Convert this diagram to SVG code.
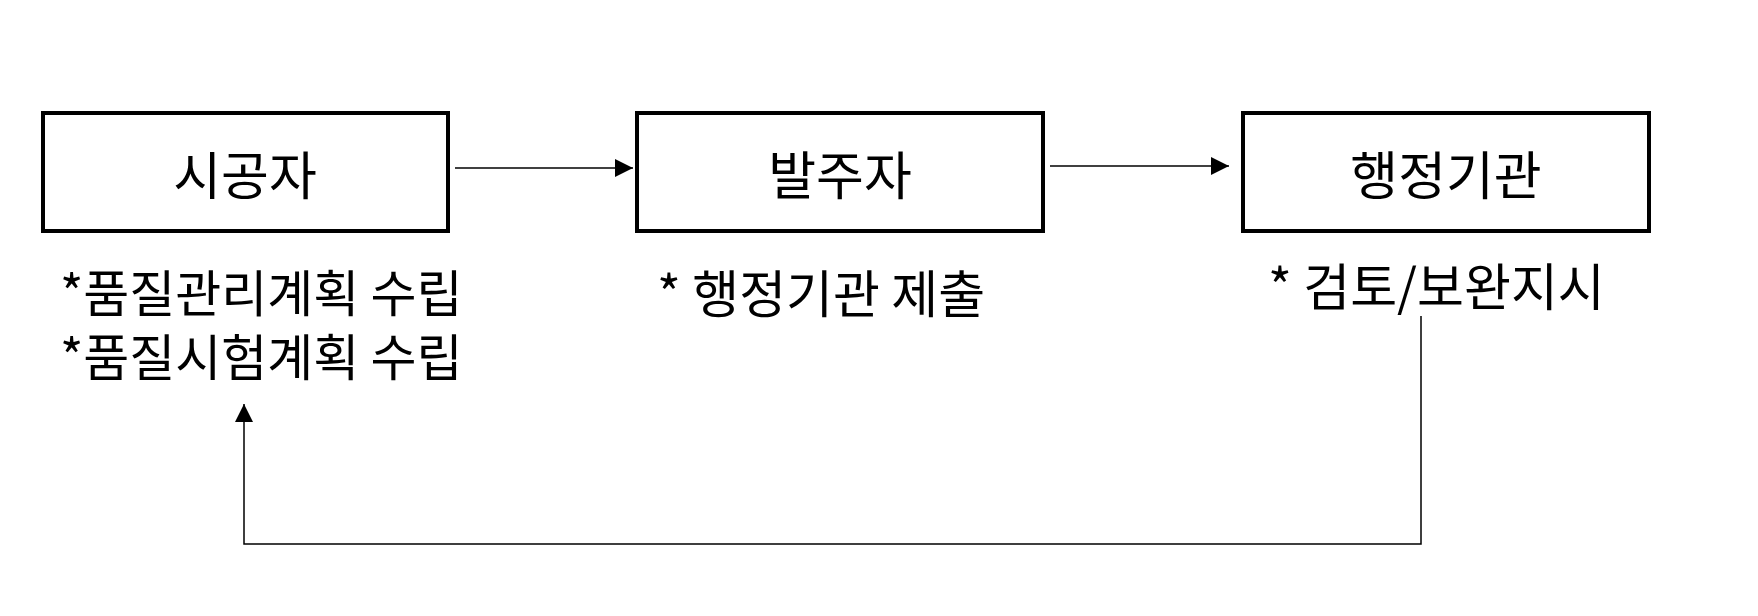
<svg xmlns="http://www.w3.org/2000/svg" width="1758" height="616" viewBox="0 0 1758 616">
<style>
.box{fill:#fff;stroke:#000;stroke-width:4}
.t{font-family:"Noto Sans CJK KR","Liberation Sans",sans-serif;fill:#000}
.c{stroke:#000;stroke-width:1.5;fill:none}
</style>
<defs><marker id="b" viewBox="0 0 10 10" refX="10" refY="5" markerWidth="18" markerHeight="18" orient="auto" markerUnits="userSpaceOnUse"><path d="M0,0L10,5L0,10z"/></marker></defs>
<rect width="1758" height="616" fill="#fff"/>
<g id="n1"><rect class="box" x="43" y="113" width="405" height="118"/><text class="t" x="245" y="172" font-size="52" text-anchor="middle" dominant-baseline="central">시공자</text></g>
<g id="n2"><rect class="box" x="637" y="113" width="406" height="118"/><text class="t" x="840" y="172" font-size="52" text-anchor="middle" dominant-baseline="central">발주자</text></g>
<g id="n3"><rect class="box" x="1243" y="113" width="406" height="118"/><text class="t" x="1446" y="172" font-size="52" text-anchor="middle" dominant-baseline="central">행정기관</text></g>
<g id="l1"><text class="t" x="60" y="312" font-size="50">*품질관리계획 수립</text><text class="t" x="60" y="376" font-size="50">*품질시험계획 수립</text></g>
<g id="l2"><text class="t" x="657" y="313" font-size="51">* 행정기관 제출</text></g>
<g id="l3"><text class="t" x="1268" y="306" font-size="51">* 검토/보완지시</text></g>
<g id="connectors">
<line class="c" x1="455" y1="168" x2="633" y2="168" marker-end="url(#b)"/>
<line class="c" x1="1050" y1="166" x2="1229" y2="166" marker-end="url(#b)"/>
<polyline class="c" points="1421,316 1421,544 244,544 244,404" marker-end="url(#b)"/>
</g>
</svg>
